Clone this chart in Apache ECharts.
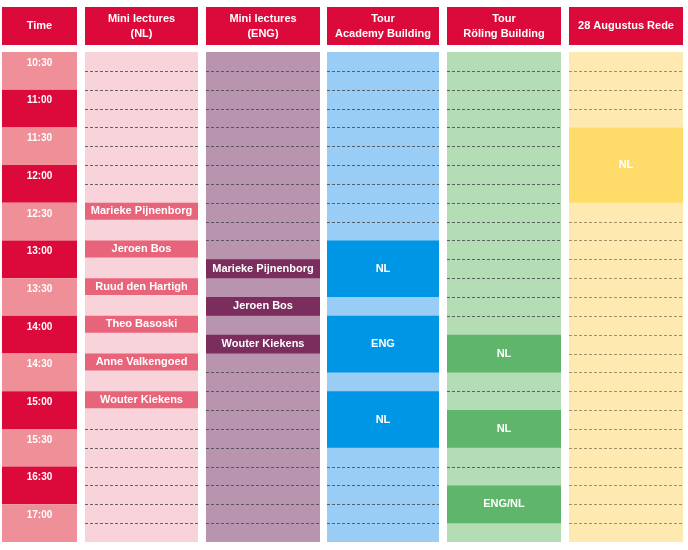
<!DOCTYPE html>
<html>
<head>
<meta charset="utf-8">
<script src="https://cdn.jsdelivr.net/npm/echarts@6/dist/echarts.min.js"></script>
<style>html,body{margin:0;padding:0;background:#fff}#chart{width:688px;height:550px}</style>
</head>
<body>
<div id="chart"></div>
<script>
// columns of the schedule
var headers = ['Time', 'Mini lectures\n(NL)', 'Mini lectures\n(ENG)', 'Tour\nAcademy Building', 'Tour\nRöling Building', '28 Augustus Rede'];
var timeLabels = ['10:30', '11:00', '11:30', '12:00', '12:30', '13:00', '13:30', '14:00', '14:30', '15:00', '15:30', '16:30', '17:00'];
// blocks: [column, start quarter, end quarter, label]
var lecturesNL = [[1, 8, 8.9, 'Marieke Pijnenborg'], [1, 10, 10.9, 'Jeroen Bos'], [1, 12, 12.9, 'Ruud den Hartigh'], [1, 14, 14.9, 'Theo Basoski'], [1, 16, 16.9, 'Anne Valkengoed'], [1, 18, 18.9, 'Wouter Kiekens']];
var lecturesENG = [[2, 11, 12, 'Marieke Pijnenborg'], [2, 13, 14, 'Jeroen Bos'], [2, 15, 16, 'Wouter Kiekens']];
var toursAcademy = [[3, 10, 13, 'NL'], [3, 14, 17, 'ENG'], [3, 18, 21, 'NL']];
var toursRoling = [[4, 15, 17, 'NL'], [4, 19, 21, 'NL'], [4, 23, 25, 'ENG/NL']];
var rede = [[5, 4, 8, 'NL']];
// dashed quarter lines per column
var lineRows = {
  1: [1, 2, 3, 4, 5, 6, 7, 20, 21, 22, 23, 24, 25],
  2: [1, 2, 3, 4, 5, 6, 7, 8, 9, 10, 17, 18, 19, 20, 21, 22, 23, 24, 25],
  3: [1, 2, 3, 4, 5, 6, 7, 8, 9, 22, 23, 24, 25],
  4: [1, 2, 3, 4, 5, 6, 7, 8, 9, 10, 11, 12, 13, 14, 18, 22],
  5: [1, 2, 3, 9, 10, 11, 12, 13, 14, 15, 16, 17, 18, 19, 20, 21, 22, 23, 24, 25]
};

var colX = [[2, 77], [85, 198], [206, 320], [327, 439], [447, 561], [569, 683]];
var bgColors = ['#dc0a3a', '#f9d3da', '#b894ae', '#99cdf5', '#b4dcb5', '#feeab0'];
var blockColors = ['#dc0a3a', '#e8647a', '#7b2d5e', '#0096e6', '#5fb56a', '#ffdc6a'];

function rect(api, c, y0, y1) {
  var p0 = api.coord([colX[c][0], y0]);
  var p1 = api.coord([colX[c][1], y1]);
  return { x: p0[0], y: p0[1], width: p1[0] - p0[0], height: p1[1] - p0[1] };
}

var lineData = [];
Object.keys(lineRows).forEach(function (c) {
  lineRows[c].forEach(function (r) { lineData.push([+c, r]); });
});
var blocks = lecturesNL.concat(lecturesENG, toursAcademy, toursRoling, rede);

var chart = echarts.init(document.getElementById('chart'));
chart.setOption({
  animation: false,
  grid: { left: 0, right: 0, top: 52, bottom: 8 },
  xAxis: { type: 'value', min: 0, max: 688, show: false },
  yAxis: { type: 'value', min: 0, max: 26, inverse: true, show: false },
  series: [
    {
      type: 'custom', silent: true,
      data: headers.map(function (h, i) { return [i, h]; }),
      renderItem: function (params, api) {
        var c = api.value(0);
        return {
          type: 'rect', shape: rect(api, c, -2.39, -0.37),
          style: { fill: '#dc0a3a' },
          textContent: { style: { text: headers[c], fill: '#fff', font: 'bold 11px Arial, "Liberation Sans"', lineHeight: 15, align: 'center' } },
          textConfig: { position: 'inside' }
        };
      }
    },
    {
      type: 'custom', silent: true,
      data: [1, 2, 3, 4, 5],
      renderItem: function (params, api) {
        var c = api.value(0);
        return { type: 'rect', shape: rect(api, c, 0, 26), style: { fill: bgColors[c] } };
      }
    },
    {
      type: 'custom', silent: true,
      data: timeLabels.map(function (t, i) { return [i, t]; }),
      renderItem: function (params, api) {
        var i = api.value(0);
        return {
          type: 'rect', shape: rect(api, 0, i * 2, i * 2 + 2),
          style: { fill: i % 2 ? '#dc0a3a' : '#ef8f98' },
          textContent: { style: { text: timeLabels[i], fill: '#fff', font: 'bold 10px Arial, "Liberation Sans"' } },
          textConfig: { position: 'insideTop', distance: 6 }
        };
      }
    },
    {
      type: 'custom', silent: true,
      data: lineData,
      renderItem: function (params, api) {
        var c = api.value(0), r = api.value(1);
        var p0 = api.coord([colX[c][0], r]), p1 = api.coord([colX[c][1], r]);
        return {
          type: 'line', shape: { x1: p0[0], y1: Math.round(p0[1]) + 0.5, x2: p1[0], y2: Math.round(p1[1]) + 0.5 },
          style: { stroke: c === 5 ? '#8a7a55' : '#444', lineWidth: 1, lineDash: [3, 2], opacity: 0.8 }
        };
      }
    },
    {
      type: 'custom', silent: true,
      data: blocks,
      renderItem: function (params, api) {
        var b = blocks[params.dataIndex];
        return {
          type: 'rect', shape: rect(api, b[0], b[1], b[2]),
          style: { fill: blockColors[b[0]] },
          textContent: { style: { text: b[3], fill: '#fff', font: 'bold 11px Arial, "Liberation Sans"' } },
          textConfig: { position: 'inside' }
        };
      }
    }
  ]
});
</script>
</body>
</html>
